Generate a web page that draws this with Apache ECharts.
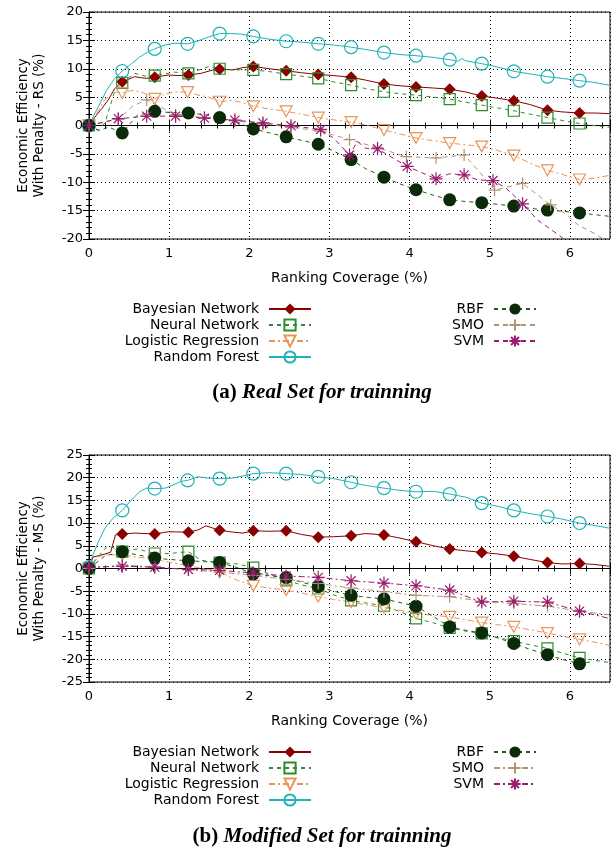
<!DOCTYPE html>
<html>
<head>
<meta charset="utf-8">
<script src="https://cdn.jsdelivr.net/npm/echarts@6.0.0/dist/echarts.min.js"></script>
<style>
  html, body { margin: 0; padding: 0; background: #fff; }
  #chart { width: 616px; height: 851px; }
</style>
</head>
<body>
<div id="chart"></div>
<script>
// ---- (a) Real Set: marker points and the line points between them ----
const rsForestMarks = [[0,0],[0.415,9.6],[0.82,13.5],[1.23,14.4],[1.63,16.2],[2.05,15.7],[2.46,14.85],[2.86,14.4],[3.27,13.8],[3.68,12.85],[4.08,12.3],[4.5,11.6],[4.9,10.9],[5.3,9.55],[5.72,8.6],[6.12,7.9]];
const rsForestLine = [[0.06,1.8],[0.116,3.3],[0.22,6.2],[0.32,8.3],[0.53,10.9],[0.635,12.1],[0.74,13.0],[0.95,14.2],[1.07,14.5],[1.36,14.9],[1.49,15.6],[1.78,16.2],[1.9,16.1],[2.25,15.2],[2.65,14.7],[3.05,14.2],[3.45,13.4],[3.88,12.5],[4.3,12.0],[4.6,11.3],[4.65,11.8],[4.7,11.4],[5.1,10.3],[5.5,9.1],[5.9,8.3],[6.3,7.6],[6.49,7.1]];
const rsBayesMarks = [[0,0],[0.415,7.7],[0.82,8.5],[1.24,8.9],[1.63,9.9],[2.05,10.4],[2.46,9.65],[2.86,9.0],[3.27,8.5],[3.68,7.3],[4.08,6.8],[4.5,6.4],[4.9,5.2],[5.3,4.35],[5.72,2.7],[6.12,2.2]];
const rsBayesLine = [[0.075,1.5],[0.16,3.0],[0.24,4.5],[0.32,6.5],[0.57,8.6],[0.71,8.3],[0.99,8.9],[1.11,8.8],[1.4,9.2],[1.55,9.8],[1.8,9.8],[1.92,10.2],[2.25,10.0],[2.65,9.3],[3.05,8.8],[3.45,8.0],[3.88,7.0],[4.3,6.6],[4.7,5.9],[5.1,4.8],[5.5,3.7],[5.9,2.4],[6.3,2.2],[6.49,2.1]];
const rsNeuralMarks = [[0,0],[0.415,7.5],[0.82,8.8],[1.24,9.2],[1.63,10.0],[2.05,9.8],[2.46,9.05],[2.86,8.3],[3.27,7.1],[3.68,5.95],[4.08,5.35],[4.5,4.65],[4.9,3.6],[5.3,2.6],[5.72,1.4],[6.12,0.35]];
const rsNeuralLine = [[0.12,-0.8],[0.2,0.5],[0.32,6.0],[0.57,9.2],[0.7,8.7],[1.07,9.4],[1.4,9.9],[1.5,10.4],[1.8,9.8],[2.25,9.5],[2.65,8.7],[3.05,7.7],[3.45,6.5],[3.88,5.6],[4.3,5.0],[4.7,4.1],[5.1,3.1],[5.5,2.0],[5.9,0.9],[6.3,0.0],[6.49,-0.3]];
const rsLogisticMarks = [[0,0],[0.415,5.7],[0.82,4.7],[1.23,5.9],[1.63,4.2],[2.05,3.4],[2.46,2.5],[2.86,1.4],[3.27,0.6],[3.68,-0.8],[4.08,-2.2],[4.5,-3.1],[4.9,-3.7],[5.3,-5.3],[5.72,-7.9],[6.12,-9.5]];
const rsLogisticLine = [[0.12,2.7],[0.19,4.5],[0.34,5.9],[0.53,6.2],[0.66,5.9],[0.95,5.6],[1.07,5.9],[1.36,5.35],[1.49,5.0],[1.78,4.4],[1.9,4.1],[2.25,2.9],[2.65,2.0],[3.05,1.0],[3.45,0.1],[3.88,-1.5],[4.3,-2.7],[4.7,-3.4],[5.1,-4.4],[5.5,-6.6],[5.9,-8.6],[6.3,-9.3],[6.49,-8.8]];
const rsRbfMarks = [[0,0],[0.415,-1.3],[0.82,2.5],[1.24,2.2],[1.63,1.4],[2.05,-0.6],[2.46,-2.0],[2.86,-3.3],[3.27,-6.0],[3.68,-9.1],[4.08,-11.3],[4.5,-13.1],[4.9,-13.6],[5.3,-14.2],[5.72,-14.9],[6.12,-15.4]];
const rsRbfLine = [[0.12,-0.9],[0.25,-0.3],[0.6,1.8],[1.0,2.3],[1.45,1.9],[1.85,0.6],[2.25,-1.3],[2.65,-2.6],[3.05,-4.5],[3.45,-7.6],[3.88,-10.3],[4.3,-12.3],[4.7,-13.4],[5.1,-13.9],[5.5,-14.6],[5.9,-15.1],[6.3,-15.7],[6.49,-16.0]];
const rsSmoMarks = [[0,0],[0.365,1.1],[0.72,4.5],[1.08,1.9],[1.44,1.4],[1.82,0.8],[2.17,0.3],[2.52,-0.3],[2.89,-1.0],[3.25,-2.5],[3.6,-3.9],[3.96,-5.5],[4.33,-5.7],[4.68,-5.2],[5.06,-11.4],[5.41,-10.2],[5.76,-14.0]];
const rsSmoLine = [[0.55,3.5],[0.9,3.2],[4.85,-7.8],[5.95,-15.6],[6.1,-17.5],[6.3,-19.0],[6.45,-20.3],[6.5,-21]];
const rsSvmMarks = [[0,0],[0.365,1.2],[0.72,1.65],[1.08,1.65],[1.44,1.3],[1.82,0.95],[2.17,0.45],[2.52,-0.05],[2.89,-0.7],[3.25,-5.2],[3.6,-4.1],[3.97,-7.2],[4.33,-9.4],[4.68,-8.7],[5.04,-9.7],[5.41,-13.8]];
const rsSvmLine = [[3.05,-2.2],[3.35,-2.8],[3.45,-4.0],[3.8,-5.8],[4.15,-8.3],[4.5,-8.5],[4.85,-9.6],[5.2,-11.0],[5.6,-16.7],[5.89,-19.6],[6.0,-21]];

// ---- (b) Modified Set ----
const msForestMarks = [[0,0.3],[0.415,12.8],[0.82,17.6],[1.23,19.4],[1.63,19.8],[2.05,20.9],[2.46,20.9],[2.86,20.2],[3.27,19.0],[3.68,17.7],[4.08,16.9],[4.5,16.4],[4.9,14.4],[5.3,12.8],[5.72,11.45],[6.12,10.0]];
const msForestLine = [[0.05,3.0],[0.116,5.9],[0.2,8.9],[0.3,11.1],[0.53,15.1],[0.635,17.0],[0.72,17.7],[0.95,17.7],[1.05,18.4],[1.15,19.2],[1.36,20.2],[1.49,19.9],[1.78,19.9],[1.9,20.3],[2.25,21.1],[2.65,20.7],[3.05,19.8],[3.45,18.3],[3.88,17.2],[4.3,17.0],[4.7,15.7],[5.1,13.7],[5.5,12.1],[5.9,10.9],[6.3,9.5],[6.49,8.9]];
const msBayesMarks = [[0,0],[0.415,7.6],[0.82,7.6],[1.24,8.0],[1.63,8.4],[2.05,8.3],[2.46,8.3],[2.86,6.9],[3.27,7.2],[3.68,7.4],[4.08,5.9],[4.5,4.3],[4.9,3.55],[5.3,2.7],[5.72,1.3],[6.12,1.1]];
const msBayesLine = [[0.05,2.5],[0.2,3.2],[0.27,3.6],[0.33,7.4],[0.57,7.8],[0.99,8.1],[1.36,8.5],[1.46,9.4],[1.8,8.0],[1.92,7.8],[2.25,8.2],[2.65,7.5],[3.05,7.0],[3.45,7.7],[3.88,6.7],[4.3,5.0],[4.7,3.9],[5.1,3.2],[5.5,2.0],[5.9,1.0],[6.3,0.9],[6.49,0.5]];
const msNeuralMarks = [[0,0],[0.415,3.7],[0.82,3.3],[1.24,3.7],[1.63,1.3],[2.05,0.2],[2.46,-2.6],[2.86,-4.4],[3.27,-7.0],[3.68,-8.2],[4.08,-11.0],[4.5,-13.1],[4.9,-14.3],[5.3,-16.0],[5.72,-17.6],[6.12,-19.7]];
const msNeuralLine = [[0.116,2.6],[0.22,4.8],[0.3,4.6],[0.6,4.3],[1.0,3.3],[1.4,1.8],[1.85,1.0],[2.25,-1.2],[2.65,-3.6],[3.05,-5.8],[3.45,-7.6],[3.88,-9.5],[4.3,-12.0],[4.7,-13.8],[5.1,-15.2],[5.5,-16.8],[5.9,-18.6],[6.3,-20.2],[6.49,-20.7]];
const msLogisticMarks = [[0,0],[0.415,3.0],[0.82,2.0],[1.24,0.6],[1.63,-0.8],[2.05,-3.8],[2.46,-4.75],[2.86,-6.2],[3.27,-7.4],[3.68,-8.6],[4.08,-10.0],[4.5,-10.65],[4.9,-11.9],[5.3,-12.85],[5.72,-14.2],[6.12,-15.6]];
const msLogisticLine = [[0.1,2.5],[0.2,3.0],[0.6,2.5],[1.0,1.4],[1.45,-0.1],[1.85,-2.6],[2.25,-4.3],[2.65,-5.4],[3.05,-6.8],[3.45,-8.0],[3.88,-9.2],[4.3,-10.3],[4.7,-11.3],[5.1,-12.4],[5.5,-13.5],[5.9,-14.9],[6.3,-16.2],[6.49,-16.9]];
const msRbfMarks = [[0,0],[0.415,3.7],[0.82,2.3],[1.24,1.7],[1.63,1.3],[2.05,-1.2],[2.46,-2.0],[2.86,-4.0],[3.27,-5.9],[3.68,-6.7],[4.08,-8.3],[4.5,-12.9],[4.9,-14.2],[5.3,-16.5],[5.72,-19.0],[6.12,-21.0]];
const msRbfLine = [[0.2,2.8],[0.6,3.0],[1.0,2.0],[1.45,1.5],[1.85,0.2],[2.25,-1.6],[2.65,-3.0],[3.05,-5.0],[3.45,-6.3],[3.88,-7.5],[4.3,-10.6],[4.7,-13.6],[5.1,-15.3],[5.5,-17.8],[5.9,-20.0],[6.25,-20.6]];
const msSmoMarks = [[0,0],[0.415,0.8],[0.82,0.3],[1.24,-0.3],[1.63,-0.8],[2.05,-1.5],[2.46,-2.4],[2.86,-3.3],[3.27,-4.3],[3.68,-5.1],[4.08,-5.9],[4.5,-6.2],[4.9,-7.2],[5.3,-7.7],[5.72,-8.3],[6.12,-9.4]];
const msSmoLine = [[6.49,-10.2]];
const msSvmMarks = [[0,0.3],[0.415,0.5],[0.82,0.3],[1.24,-0.2],[1.63,-0.4],[2.05,-1.0],[2.46,-1.65],[2.86,-1.95],[3.27,-2.7],[3.68,-3.2],[4.08,-3.8],[4.5,-4.75],[4.9,-7.4],[5.3,-7.2],[5.72,-7.4],[6.12,-9.4]];
const msSvmLine = [[6.49,-11.0]];

const xTicks = { min: 0, max: 6.5, interval: 1 };
const rsTicks = { min: -20, max: 20, interval: 5 };
const msTicks = { min: -25, max: 25, interval: 5 };

const FONT = 'DejaVu Sans';
const leftNames = ['Bayesian Network', 'Neural Network', 'Logistic Regression', 'Random Forest'];
const rightNames = ['RBF', 'SMO', 'SVM'];

// merge marker points and plain line points, markers keep the series symbol
function merge(marks, line) {
  const pts = marks.map(p => ({ value: p }))
    .concat(line.map(p => ({ value: p, symbol: 'none' })));
  pts.sort((a, b) => a.value[0] - b.value[0]);
  return pts;
}

const styles = {
  'Bayesian Network': { color: '#8b0000', symbol: 'diamond', size: 12, type: 'solid', filled: true },
  'Neural Network': { color: '#2e8b2e', symbol: 'path://M0,0H10V10H0Z', size: 11, type: [4, 4] },
  'Logistic Regression': { color: '#e8955a', symbol: 'path://M0,0H10L5,9Z', size: 12, type: [6, 3, 2, 3] },
  'Random Forest': { color: '#1fb3b8', symbol: 'circle', size: 13, type: 'solid' },
  'RBF': { color: '#0a2a0a', line: '#1f5a1f', symbol: 'circle', size: 13, type: [4, 4], filled: true },
  'SMO': { color: '#b09478', symbol: 'path://M0,5H10M5,0V10', size: 12, type: [5, 4] },
  'SVM': { color: '#9b1b6e', symbol: 'path://M0,5H10M5,0V10M1.5,1.5L8.5,8.5M1.5,8.5L8.5,1.5', size: 13, type: [5, 4] }
};

function mkSeries(name, marks, line, gi, lineType) {
  const s = styles[name];
  return {
    name: name, type: 'line', xAxisIndex: gi * 2, yAxisIndex: gi * 2,
    data: merge(marks, line),
    symbol: s.symbol, symbolSize: s.size, symbolKeepAspect: true,
    showAllSymbol: true, animation: false, clip: true,
    lineStyle: { color: s.line || s.color, width: 1, type: lineType || s.type },
    itemStyle: s.filled
      ? { color: s.color, borderWidth: 0 }
      : { color: 'rgba(255,255,255,0)', borderColor: s.color, borderWidth: 1.2 },
    emphasis: { disabled: true }
  };
}

function xAxes(gi) {
  const base = {
    type: 'value', gridIndex: gi, min: xTicks.min, max: xTicks.max, interval: xTicks.interval,
    axisLine: { show: true, lineStyle: { color: '#000', width: 1 } },
    axisTick: { show: true, inside: true, length: 6, lineStyle: { color: '#000' } },
    minorTick: { show: true, splitNumber: 5, length: 3, lineStyle: { color: '#000' } }
  };
  return [
    Object.assign({}, base, {
      position: 'bottom', name: 'Ranking Coverage (%)', nameLocation: 'middle', nameGap: 32,
      nameTextStyle: { fontFamily: FONT, fontSize: 14, color: '#000' },
      axisLabel: { fontFamily: FONT, fontSize: 13, color: '#000', margin: 8,
        formatter: v => (v === 6.5 ? '' : String(v)) },
      splitLine: { show: true, lineStyle: { color: '#000', width: 1, type: [1, 3] } }
    }),
    Object.assign({}, base, { position: 'top', axisLabel: { show: false }, splitLine: { show: false } })
  ];
}

function yAxes(gi, ticks, label) {
  const base = {
    type: 'value', gridIndex: gi, min: ticks.min, max: ticks.max, interval: ticks.interval,
    axisLine: { show: true, lineStyle: { color: '#000', width: 1 } },
    axisTick: { show: true, inside: true, length: 6, lineStyle: { color: '#000' } },
    minorTick: { show: true, splitNumber: 5, length: 3, lineStyle: { color: '#000' } }
  };
  return [
    Object.assign({}, base, {
      position: 'left', name: label, nameLocation: 'middle', nameGap: 42,
      nameTextStyle: { fontFamily: FONT, fontSize: 13.5, color: '#000', lineHeight: 16, align: 'center' },
      axisLabel: { fontFamily: FONT, fontSize: 13, color: '#000', margin: 6 },
      splitLine: { show: true, lineStyle: { color: '#000', width: 1, type: [1, 3] } }
    }),
    Object.assign({}, base, { position: 'right', axisLabel: { show: false }, splitLine: { show: false } })
  ];
}

function legend(names, right, top) {
  return {
    data: names, orient: 'vertical', align: 'right', right: right, top: top,
    itemWidth: 42, itemHeight: 14, itemGap: 2, padding: 0, selectedMode: false,
    textStyle: { fontFamily: FONT, fontSize: 14, color: '#000', lineHeight: 14, padding: [0, 5, 0, 0] }
  };
}

const dashDot = [6, 3, 2, 3];

function caption(tag, text, y) {
  return {
    type: 'text', x: 322, y: y,
    style: {
      text: '{a|' + tag + ' }{b|' + text + '}', align: 'center', verticalAlign: 'middle',
      rich: {
        a: { fontFamily: 'Liberation Serif', fontWeight: 'bold', fontSize: 21, fill: '#000' },
        b: { fontFamily: 'Liberation Serif', fontWeight: 'bold', fontStyle: 'italic', fontSize: 21, fill: '#000' }
      }
    }
  };
}

const option = {
  backgroundColor: '#fff',
  animation: false,
  grid: [
    { left: 89, right: 6, top: 12, height: 227, show: true, borderColor: '#000', borderWidth: 1, outerBoundsMode: 'none' },
    { left: 89, right: 6, top: 455, height: 227, show: true, borderColor: '#000', borderWidth: 1, outerBoundsMode: 'none' }
  ],
  xAxis: xAxes(0).concat(xAxes(1)),
  yAxis: yAxes(0, rsTicks, 'Economic Efficiency\nWith Penalty - RS (%)')
    .concat(yAxes(1, msTicks, 'Economic Efficiency\nWith Penalty - MS (%)')),
  legend: [
    legend(leftNames, 304, 302),
    legend(rightNames, 79, 302),
    legend(leftNames, 304, 745),
    legend(['RBF', { name: 'SMO', lineStyle: { type: dashDot } }, { name: 'SVM', lineStyle: { type: dashDot } }], 79, 745)
  ],
  graphic: [
    caption('(a)', 'Real Set for trainning', 393),
    caption('(b)', 'Modified Set for trainning', 837)
  ],
  series: [
    mkSeries('Bayesian Network', rsBayesMarks, rsBayesLine, 0),
    mkSeries('Neural Network', rsNeuralMarks, rsNeuralLine, 0),
    mkSeries('Logistic Regression', rsLogisticMarks, rsLogisticLine, 0),
    mkSeries('Random Forest', rsForestMarks, rsForestLine, 0),
    mkSeries('RBF', rsRbfMarks, rsRbfLine, 0),
    mkSeries('SMO', rsSmoMarks, rsSmoLine, 0),
    mkSeries('SVM', rsSvmMarks, rsSvmLine, 0),
    mkSeries('Bayesian Network', msBayesMarks, msBayesLine, 1),
    mkSeries('Neural Network', msNeuralMarks, msNeuralLine, 1),
    mkSeries('Logistic Regression', msLogisticMarks, msLogisticLine, 1),
    mkSeries('Random Forest', msForestMarks, msForestLine, 1),
    mkSeries('RBF', msRbfMarks, msRbfLine, 1),
    mkSeries('SMO', msSmoMarks, msSmoLine, 1, dashDot),
    mkSeries('SVM', msSvmMarks, msSvmLine, 1, dashDot)
  ]
};

const chart = echarts.init(document.getElementById('chart'), null, { renderer: 'canvas' });
chart.setOption(option);
</script>
</body>
</html>
